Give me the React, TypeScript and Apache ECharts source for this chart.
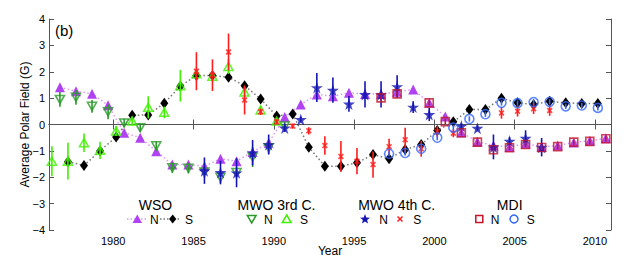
import React, { useEffect, useRef } from 'react';
import * as echarts from 'echarts';

// Epoch of best visibility within the year (N pole ~September, S pole ~March)
const NORTH_EPOCH = 0.68;
const SOUTH_EPOCH = 0.18;

const xTicks = [1980, 1985, 1990, 1995, 2000, 2005, 2010];

// WSO
const wsoNYears = [1976, 1977, 1978, 1979, 1980, 1981, 1982, 1983, 1984, 1985, 1986, 1987, 1988, 1989, 1990, 1991, 1992, 1993, 1994, 1995, 1996, 1997, 1998, 1999, 2000, 2001, 2002, 2003, 2004, 2005, 2006, 2007, 2008, 2009, 2010];
const wsoNValues = [1.41, 1.26, 1.17, 0.73, -0.31, -0.5, -1.01, -1.52, -1.52, -1.58, -1.3, -1.39, -1.04, -0.69, 0.28, 0.76, 1.14, 1.07, 1.2, 1.16, 1.16, 1.24, 1.33, 0.82, 0.3, -0.3, -0.65, -0.8, -0.85, -0.72, -0.85, -0.8, -0.68, -0.62, -0.52];
const wsoSYears = [1977, 1978, 1979, 1980, 1981, 1982, 1983, 1984, 1985, 1986, 1987, 1988, 1989, 1990, 1991, 1992, 1993, 1994, 1995, 1996, 1997, 1998, 1999, 2000, 2001, 2002, 2003, 2004, 2005, 2006, 2007, 2008, 2009, 2010];
const wsoSValues = [-1.41, -1.55, -1.0, -0.47, 0.35, 0.36, 0.81, 1.45, 1.86, 1.86, 1.79, 1.47, 0.97, 0.32, 0.4, -0.86, -1.58, -1.58, -1.45, -1.14, -1.3, -0.95, -0.76, -0.23, 0.1, 0.57, 0.57, 1.0, 0.82, 0.76, 0.88, 0.82, 0.8, 0.8];

// MWO 3rd calibration
const mwo3Years = [1976, 1977, 1978, 1979, 1980, 1981, 1982, 1983, 1984, 1985, 1986, 1987, 1988, 1989, 1990];
const mwo3NValues = [0.95, 1.03, 0.69, 0.48, 0.06, -0.12, -0.81, -1.64, -1.66, -1.8, -2.0, -1.82, -1.23, -0.88, -0.06];
const mwo3NErrors = [0.28, 0.28, 0.24, 0.28, 0.16, 0.16, 0.17, 0.19, 0.19, 0.22, 0.22, 0.22, 0.38, 0.23, 0.15];
const mwo3SValues = [-1.39, -1.39, -0.69, -0.98, -0.25, 0.13, 0.65, 0.46, 1.47, 1.92, 1.83, 2.2, 1.23, 0.55, 0.13];
const mwo3SErrors = [0.57, 0.7, 0.35, 0.33, 0.19, 0.17, 0.42, 0.22, 0.6, 0.25, 0.2, 0.28, 0.2, 0.15, 0.12];

// MWO 4th calibration
const mwo4NYears = [1985, 1986, 1987, 1988, 1989, 1990, 1991, 1992, 1993, 1994, 1995, 1996, 1997, 1998, 1999, 2001, 2002, 2003, 2004, 2005, 2006];
const mwo4NValues = [-1.75, -1.82, -1.83, -1.07, -0.76, -0.13, 0.19, 1.4, 1.3, 0.78, 1.14, 1.14, 1.44, 0.66, 0.38, -0.06, -0.14, -0.85, -0.63, -0.52, -0.86];
const mwo4NErrors = [0.5, 0.45, 0.55, 0.48, 0.38, 0.15, 0.1, 0.55, 0.48, 0.3, 0.5, 0.5, 0.43, 0.22, 0.25, 0.1, 0.1, 0.47, 0.15, 0.3, 0.35];
const mwo4SYears = [1985, 1986, 1987, 1988, 1989, 1990, 1991, 1992, 1993, 1994, 1995, 1996, 1997, 1998, 1999, 2000, 2001, 2004, 2005, 2006, 2007];
const mwo4SValues = [2.02, 1.87, 2.75, 0.93, 0.48, 0.1, -0.06, -0.24, -0.8, -1.21, -1.39, -1.52, -0.84, -0.58, -0.92, -0.27, -0.33, 0.44, 0.5, 0.6, 0.53];
const mwo4SErrors = [0.72, 0.6, 0.7, 0.55, 0.12, 0.1, 0.1, 0.14, 0.35, 0.58, 0.5, 0.5, 0.3, 0.46, 0.3, 0.2, 0.15, 0.22, 0.2, 0.2, 0.2];

// MDI
const mdiNYears = [1996, 1997, 1999, 2000, 2001, 2002, 2003, 2004, 2005, 2006, 2007, 2008, 2009, 2010];
const mdiNValues = [1.01, 1.16, 0.82, 0.11, -0.31, -0.67, -0.96, -0.88, -0.76, -0.87, -0.84, -0.67, -0.64, -0.54];
const mdiNErrors = [0.1, 0.1, 0.1, 0.1, 0.1, 0.1, 0.1, 0.1, 0.1, 0.1, 0.1, 0.1, 0.1, 0.1];
const mdiSYears = [1997, 1998, 1999, 2000, 2001, 2002, 2003, 2004, 2005, 2006, 2007, 2008, 2009, 2010];
const mdiSValues = [-1.11, -1.08, -0.92, -0.5, -0.12, 0.21, 0.39, 0.82, 0.81, 0.85, 0.86, 0.69, 0.72, 0.63];
const mdiSErrors = [0.1, 0.1, 0.1, 0.1, 0.1, 0.1, 0.1, 0.1, 0.1, 0.1, 0.1, 0.1, 0.1, 0.1];

const FONT = '"Liberation Sans", Arial, Helvetica, sans-serif';

const C = {
  wsoN: '#b042f2',
  wsoNLine: '#d99af7',
  wsoS: '#000000',
  wsoSLine: '#777777',
  mwo3N: '#2b9a2b',
  mwo3S: '#3ff000',
  mwo4N: '#1414b4',
  mwo4S: '#ff1c1c',
  mdiN: '#c4142a',
  mdiS: '#3366ff',
};

const STAR = 'path://M50,0 L61,35 L98,35 L68,57 L79,91 L50,70 L21,91 L32,57 L2,35 L39,35 Z';
const CROSS = 'path://M0,2 L2,0 L5,3 L8,0 L10,2 L7,5 L10,8 L8,10 L5,7 L2,10 L0,8 L3,5 Z';

function pts(years: number[], vals: number[], epoch: number) {
  return years.map((y, i) => [y + epoch, vals[i]]);
}

function errSeries(years: number[], vals: number[], errs: number[], epoch: number, color: string, z: number) {
  return {
    type: 'custom',
    z,
    silent: true,
    data: years.map((y, i) => [y + epoch, vals[i] - errs[i], vals[i] + errs[i]]),
    encode: { x: 0, y: [1, 2] },
    renderItem: (_params: any, api: any) => {
      const a = api.coord([api.value(0), api.value(1)]);
      const b = api.coord([api.value(0), api.value(2)]);
      return {
        type: 'line',
        shape: { x1: a[0], y1: a[1], x2: b[0], y2: b[1] },
        style: { stroke: color, lineWidth: 1.6 },
      };
    },
  };
}

function openScatter(data: number[][], symbol: string, size: number | number[], color: string, z: number, rotate = 0) {
  return {
    type: 'scatter',
    z,
    data,
    symbol,
    symbolSize: size,
    symbolRotate: rotate,
    itemStyle: { color: 'transparent', borderColor: color, borderWidth: 1.6 },
  };
}

function starPoints(cx: number, cy: number, r: number) {
  const out: number[][] = [];
  for (let k = 0; k < 10; k++) {
    const rr = k % 2 === 0 ? r : r * 0.42;
    const ang = -Math.PI / 2 + (k * Math.PI) / 5;
    out.push([cx + rr * Math.cos(ang), cy + rr * Math.sin(ang)]);
  }
  return out;
}

function legendGraphics() {
  const ty = 205;
  const ry = 219;
  const title = (text: string, x: number) => ({
    type: 'text', x, y: ty,
    style: { text, font: `14px ${FONT}`, fill: '#000', align: 'center', verticalAlign: 'middle' },
  });
  const label = (text: string, x: number) => ({
    type: 'text', x, y: ry + 0.5,
    style: { text, font: `12px ${FONT}`, fill: '#000', align: 'left', verticalAlign: 'middle' },
  });
  return [
    title('WSO', 155.5),
    { type: 'line', shape: { x1: 127, y1: ry, x2: 147, y2: ry }, style: { stroke: C.wsoNLine, lineWidth: 1.5, lineDash: [1.5, 2] } },
    { type: 'polygon', shape: { points: [[137.3, 214.5], [132.6, 223], [142, 223]] }, style: { fill: C.wsoN } },
    label('N', 150),
    { type: 'line', shape: { x1: 160, y1: ry, x2: 181, y2: ry }, style: { stroke: C.wsoSLine, lineWidth: 1.5, lineDash: [1.5, 2] } },
    { type: 'polygon', shape: { points: [[172.7, 214.5], [176.3, 219], [172.7, 223.5], [169.1, 219]] }, style: { fill: C.wsoS } },
    label('S', 185),

    title('MWO 3rd C.', 276.5),
    { type: 'polygon', shape: { points: [[247.3, 215.5], [256.1, 215.5], [251.7, 223]] }, style: { fill: 'transparent', stroke: C.mwo3N, lineWidth: 1.5 } },
    label('N', 264),
    { type: 'polygon', shape: { points: [[286.7, 215], [291.1, 222.5], [282.3, 222.5]] }, style: { fill: 'transparent', stroke: C.mwo3S, lineWidth: 1.5 } },
    label('S', 300),

    title('MWO 4th C.', 396.7),
    { type: 'polygon', shape: { points: starPoints(365, 219.3, 5.2) }, style: { fill: C.mwo4N } },
    label('N', 379.3),
    { type: 'polygon', shape: { points: [[397, 217], [398, 216], [400, 218], [402, 216], [403, 217], [401, 219], [403, 221], [402, 222], [400, 220], [398, 222], [397, 221], [399, 219]] }, style: { fill: C.mwo4S } },
    label('S', 413.3),

    title('MDI', 509.7),
    { type: 'rect', shape: { x: 475.8, y: 215.5, width: 7, height: 7 }, style: { fill: 'transparent', stroke: C.mdiN, lineWidth: 1.5 } },
    label('N', 490.7),
    { type: 'circle', shape: { cx: 514, cy: 219, r: 4 }, style: { fill: 'transparent', stroke: C.mdiS, lineWidth: 1.5 } },
    label('S', 526.7),

    {
      type: 'text', x: 55, y: 30,
      style: { text: '(b)', font: `15px ${FONT}`, fill: '#000', align: 'left', verticalAlign: 'middle' },
    },
  ];
}

export default function App() {
  const ref = useRef<HTMLDivElement>(null);

  useEffect(() => {
    if (!ref.current) return;
    const chart = echarts.init(ref.current, undefined, { renderer: 'svg' });
    const axisColor = '#555';
    const tickCommon = { show: true, inside: true, length: 5, lineStyle: { color: axisColor, width: 1 } };
    const fmtY = (v: number) => (v < 0 ? '\u2212' + Math.abs(v) : String(v));
    const fmtX = (v: number) => String(v);

    chart.setOption({
      animation: false,
      textStyle: { fontFamily: FONT },
      grid: { left: 49, right: 12, top: 19, bottom: 30, containLabel: false, outerBoundsMode: 'none' },
      xAxis: [
        {
          type: 'value', min: 1976, max: 2011, position: 'bottom',
          axisLine: { show: true, lineStyle: { color: axisColor, width: 1 } },
          axisTick: { ...tickCommon, customValues: xTicks },
          axisLabel: { show: true, customValues: xTicks, formatter: fmtX, color: '#000', fontSize: 11, margin: 5, fontFamily: FONT },
          splitLine: { show: false },
          name: 'Year', nameLocation: 'middle', nameGap: 15, nameMoveOverlap: false,
          nameTextStyle: { color: '#000', fontSize: 12, fontFamily: FONT },
        },
        {
          type: 'value', min: 1976, max: 2011, position: 'top',
          axisLine: { show: true, lineStyle: { color: axisColor, width: 1 } },
          axisTick: { ...tickCommon, customValues: xTicks },
          axisLabel: { show: false },
          splitLine: { show: false },
        },
      ],
      yAxis: [
        {
          type: 'value', min: -4, max: 4, interval: 1, position: 'left',
          axisLine: { show: true, lineStyle: { color: axisColor, width: 1 } },
          axisTick: tickCommon,
          axisLabel: { show: true, color: '#000', fontSize: 11, margin: 4, formatter: fmtY, fontFamily: FONT },
          splitLine: { show: false },
          name: 'Average Polar Field (G)', nameLocation: 'middle', nameGap: 18, nameMoveOverlap: false,
          nameTextStyle: { color: '#000', fontSize: 12, fontFamily: FONT },
        },
        {
          type: 'value', min: -4, max: 4, interval: 1, position: 'right',
          axisLine: { show: true, lineStyle: { color: axisColor, width: 1 } },
          axisTick: tickCommon,
          axisLabel: { show: false },
          splitLine: { show: false },
        },
      ],
      graphic: legendGraphics(),
      series: [
        {
          type: 'line', z: 2, data: pts(wsoNYears, wsoNValues, NORTH_EPOCH),
          symbol: 'triangle', symbolSize: 10, showSymbol: true,
          itemStyle: { color: C.wsoN },
          lineStyle: { color: C.wsoNLine, type: [1.5, 2.5], width: 1.5 },
        },
        {
          type: 'line', z: 2, data: pts(wsoSYears, wsoSValues, SOUTH_EPOCH),
          symbol: 'diamond', symbolSize: [8, 11], showSymbol: true,
          itemStyle: { color: C.wsoS },
          lineStyle: { color: C.wsoSLine, type: [1.5, 2.5], width: 1.5 },
        },
        errSeries(mwo3Years, mwo3NValues, mwo3NErrors, NORTH_EPOCH, C.mwo3N, 3),
        openScatter(pts(mwo3Years, mwo3NValues, NORTH_EPOCH), 'triangle', [9, 8], C.mwo3N, 4, 180),
        errSeries(mwo3Years, mwo3SValues, mwo3SErrors, SOUTH_EPOCH, C.mwo3S, 3),
        openScatter(pts(mwo3Years, mwo3SValues, SOUTH_EPOCH), 'triangle', [9, 8], C.mwo3S, 4),
        errSeries(mwo4NYears, mwo4NValues, mwo4NErrors, NORTH_EPOCH, C.mwo4N, 5),
        {
          type: 'scatter', z: 6, data: pts(mwo4NYears, mwo4NValues, NORTH_EPOCH),
          symbol: STAR, symbolSize: 12, itemStyle: { color: C.mwo4N },
        },
        errSeries(mwo4SYears, mwo4SValues, mwo4SErrors, SOUTH_EPOCH, C.mwo4S, 5),
        {
          type: 'scatter', z: 6, data: pts(mwo4SYears, mwo4SValues, SOUTH_EPOCH),
          symbol: CROSS, symbolSize: 6, itemStyle: { color: C.mwo4S },
        },
        errSeries(mdiNYears, mdiNValues, mdiNErrors, NORTH_EPOCH, C.mdiN, 7),
        openScatter(pts(mdiNYears, mdiNValues, NORTH_EPOCH), 'rect', 8, C.mdiN, 8),
        errSeries(mdiSYears, mdiSValues, mdiSErrors, SOUTH_EPOCH, C.mdiS, 7),
        openScatter(pts(mdiSYears, mdiSValues, SOUTH_EPOCH), 'circle', 9, C.mdiS, 8),
      ],
    });

    return () => chart.dispose();
  }, []);

  return <div ref={ref} style={{ width: 623, height: 260, position: 'absolute', left: 0, top: 0 }} />;
}
